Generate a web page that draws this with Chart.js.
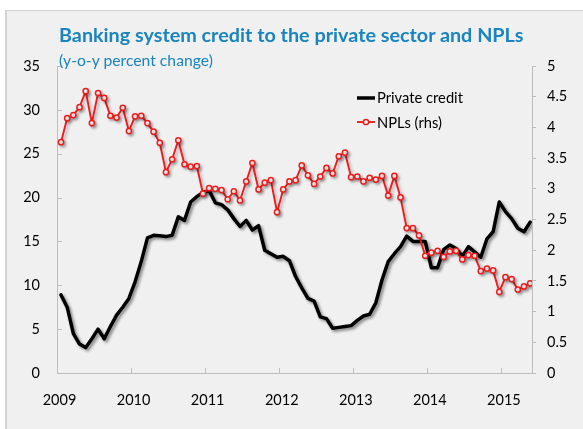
<!DOCTYPE html>
<html>
<head>
<meta charset="utf-8">
<script src="https://cdn.jsdelivr.net/npm/chart.js@4.4.1/dist/chart.umd.min.js"></script>
<style>
  html, body { margin:0; padding:0; background:#ffffff; width:583px; height:429px; overflow:hidden; font-family: Lato, "Open Sans", sans-serif; }
  #frame { position:absolute; left:5px; top:10px; width:640px; height:480px; background:#f0f0f0; border-left:2px solid #d2d2d2; border-top:1px solid #d2d2d2; }
  #c { position:absolute; left:0; top:0; }
  .t { position:absolute; white-space:nowrap; line-height:1; margin:0; }
  #title { font-weight:700; font-size:19px; color:#1a84bc; }
  #subtitle { font-size:15px; color:#1a84bc; }
  .legtext { font-size:15px; color:#000; }
  .legsym { position:absolute; }
</style>
</head>
<body>
<div id="frame"></div>
<canvas id="c" width="583" height="429"></canvas>
<div id="title" class="t">Banking system credit to the private sector and NPLs</div>
<div id="subtitle" class="t">(y-o-y percent change)</div>
<div id="legend"></div>
<script>
// ---- Data (monthly, Jan 2009 - May 2015) ----
const startYear = 2009;
const months = [];
for (let k = 0; k < 77; k++) {
  months.push((startYear + Math.floor(k / 12)) + '-' + String(k % 12 + 1).padStart(2, '0'));
}

const privateCredit = [
  8.9, 7.5, 4.5, 3.3, 2.9, 3.9, 5.0, 3.9, 5.3, 6.6, 7.5, 8.5,
  10.4, 12.7, 15.4, 15.7, 15.65, 15.55, 15.7, 17.8, 17.4, 19.5, 20.1, 20.6,
  20.8, 19.4, 19.2, 18.6, 17.6, 16.7, 17.4, 16.3, 16.8, 14.0, 13.6, 13.2,
  13.3, 12.8, 11.0, 9.7, 8.5, 8.2, 6.4, 6.2, 5.1, 5.2, 5.3, 5.4,
  6.0, 6.5, 6.7, 8.0, 10.6, 12.7, 13.6, 14.4, 15.6, 15.0, 15.0, 15.0,
  12.0, 12.0, 14.1, 14.6, 14.2, 13.3, 14.4, 13.8, 13.2, 15.3, 16.1, 19.5,
  18.4, 17.6, 16.5, 16.1, 17.2
];

const npls = [
  3.76, 4.15, 4.20, 4.33, 4.59, 4.07, 4.56, 4.48, 4.19, 4.16, 4.32, 3.94,
  4.18, 4.19, 4.07, 3.93, 3.75, 3.27, 3.48, 3.79, 3.40, 3.36, 3.37, 2.92,
  3.01, 3.00, 2.98, 2.83, 2.96, 2.81, 3.12, 3.42, 2.99, 3.10, 3.14, 2.62,
  2.99, 3.12, 3.14, 3.38, 3.22, 3.08, 3.20, 3.34, 3.25, 3.53, 3.59, 3.19,
  3.20, 3.12, 3.18, 3.15, 3.21, 2.89, 3.21, 2.86, 2.36, 2.36, 2.24, 1.91,
  1.96, 1.99, 1.89, 1.98, 1.99, 1.85, 1.92, 1.91, 1.66, 1.70, 1.67, 1.32,
  1.56, 1.53, 1.36, 1.41, 1.46
];

const yearLabels = ['2009', '2010', '2011', '2012', '2013', '2014', '2015'];
const seriesLabels = ['Private credit', 'NPLs (rhs)'];

// ---- Styling / layout ----
const X_OFF = 0.65;          // points sit slightly after the month start
const X_MAX = 76.95;
const AXIS = '#bdbdbd';
const RED = '#ee1c1c';
Chart.defaults.font.family = 'Lato, "Open Sans", sans-serif';
Chart.defaults.font.size = 14.5;
Chart.defaults.color = '#000';

const yearTicks = yearLabels.map((_, k) => k * 12);

const innerTicks = {
  id: 'innerTicks',
  beforeDatasetsDraw(chart) {
    const { ctx, chartArea, scales } = chart;
    ctx.save();
    ctx.strokeStyle = AXIS;
    ctx.lineWidth = 1;
    ctx.beginPath();
    scales.y.ticks.forEach(t => {
      const py = Math.round(scales.y.getPixelForValue(t.value)) + 0.5;
      ctx.moveTo(chartArea.left, py); ctx.lineTo(chartArea.left + 5, py);
    });
    scales.x.ticks.forEach(t => {
      const px = Math.round(scales.x.getPixelForValue(t.value)) + 0.5;
      ctx.moveTo(px, chartArea.bottom); ctx.lineTo(px, chartArea.bottom - 5);
    });
    ctx.stroke();
    ctx.restore();
  }
};

const shadow = {
  id: 'shadow',
  beforeDatasetDraw(chart, args) {
    const c = chart.ctx;
    c.save();
    c.shadowColor = args.index === 0 ? 'rgba(0,0,0,0.45)' : 'rgba(0,0,0,0.28)';
    c.shadowBlur = 3;
    c.shadowOffsetX = 2;
    c.shadowOffsetY = 2;
  },
  afterDatasetDraw(chart) { chart.ctx.restore(); }
};

const chart = new Chart(document.getElementById('c'), {
  type: 'line',
  data: {
    datasets: [
      {
        label: seriesLabels[0],
        data: privateCredit.map((v, k) => ({ x: k + X_OFF, y: v, m: months[k] })),
        yAxisID: 'y',
        borderColor: '#000',
        borderWidth: 3.5,
        pointRadius: 0,
        tension: 0,
        borderJoinStyle: 'round',
        borderCapStyle: 'round',
        order: 2
      },
      {
        label: seriesLabels[1],
        data: npls.map((v, k) => ({ x: k + X_OFF, y: v, m: months[k] })),
        yAxisID: 'y1',
        borderColor: RED,
        borderWidth: 1.9,
        pointRadius: 2.6,
        pointBackgroundColor: '#fff',
        pointBorderColor: RED,
        pointBorderWidth: 1.5,
        tension: 0,
        order: 1
      }
    ]
  },
  options: {
    responsive: false,
    animation: false,
    devicePixelRatio: 1,
    events: [],
    layout: { padding: { top: 66, left: 0, right: 0, bottom: 0 } },
    plugins: { legend: { display: false }, tooltip: { enabled: false }, title: { display: false } },
    scales: {
      x: {
        type: 'linear', min: 0, max: X_MAX,
        afterBuildTicks: s => { s.ticks = yearTicks.map(v => ({ value: v })); },
        ticks: {
          callback: v => yearLabels[yearTicks.indexOf(v)],
          padding: 19, labelOffset: 2.5, maxRotation: 0, autoSkip: false
        },
        grid: { display: false, drawTicks: false },
        border: { display: true, color: AXIS, width: 1 },
        afterFit: s => { s.height = 56; }
      },
      y: {
        position: 'left', min: 0, max: 35,
        ticks: { stepSize: 5, padding: 17 },
        grid: { display: false, drawTicks: false },
        border: { display: true, color: AXIS, width: 1 },
        afterFit: s => { s.width = 57; }
      },
      y1: {
        position: 'right', min: 0, max: 5,
        ticks: { stepSize: 0.5, padding: 11, callback: v => String(+v.toFixed(1)) },
        grid: { display: true, drawOnChartArea: false, drawTicks: true, tickLength: 4, color: AXIS },
        border: { display: true, color: AXIS, width: 1 },
        afterFit: s => { s.width = 51; }
      }
    }
  },
  plugins: [innerTicks, shadow]
});

// ---- HTML text placement (fit width, align baseline) ----
function place(el, left, baseline, width) {
  el.style.left = left + 'px';
  el.style.top = '0px';
  if (width) {
    const w = el.getBoundingClientRect().width;
    const fs = parseFloat(getComputedStyle(el).fontSize);
    el.style.fontSize = (fs * width / w) + 'px';
  }
  const probe = document.createElement('span');
  probe.style.cssText = 'display:inline-block;width:0;height:0;vertical-align:baseline';
  el.appendChild(probe);
  const b = probe.getBoundingClientRect().top;
  el.style.top = (baseline - b) + 'px';
}

place(document.getElementById('title'), 59, 41.5, 465);
place(document.getElementById('subtitle'), 59, 66, 154);

// Legend built from the chart's datasets
const legend = document.getElementById('legend');
const legRows = [{ cy: 97.5, base: 103, w: 86 }, { cy: 122, base: 128, w: 65 }];
chart.data.datasets.forEach((ds, k) => {
  const r = legRows[k];
  const svgNS = 'http://www.w3.org/2000/svg';
  const svg = document.createElementNS(svgNS, 'svg');
  svg.setAttribute('width', '22'); svg.setAttribute('height', '12');
  svg.setAttribute('class', 'legsym');
  svg.style.left = '355px'; svg.style.top = (r.cy - 6) + 'px';
  const ln = document.createElementNS(svgNS, 'line');
  ln.setAttribute('x1', '2'); ln.setAttribute('x2', '20');
  ln.setAttribute('y1', '6'); ln.setAttribute('y2', '6');
  ln.setAttribute('stroke', ds.borderColor); ln.setAttribute('stroke-width', ds.borderWidth);
  svg.appendChild(ln);
  if (ds.pointRadius > 0) {
    const ci = document.createElementNS(svgNS, 'circle');
    ci.setAttribute('cx', '11'); ci.setAttribute('cy', '6'); ci.setAttribute('r', ds.pointRadius);
    ci.setAttribute('fill', ds.pointBackgroundColor); ci.setAttribute('stroke', ds.pointBorderColor);
    ci.setAttribute('stroke-width', ds.pointBorderWidth);
    svg.appendChild(ci);
  }
  legend.appendChild(svg);
  const tx = document.createElement('div');
  tx.className = 't legtext';
  tx.textContent = ds.label;
  legend.appendChild(tx);
  place(tx, 377, r.base, r.w);
});
</script>
</body>
</html>
